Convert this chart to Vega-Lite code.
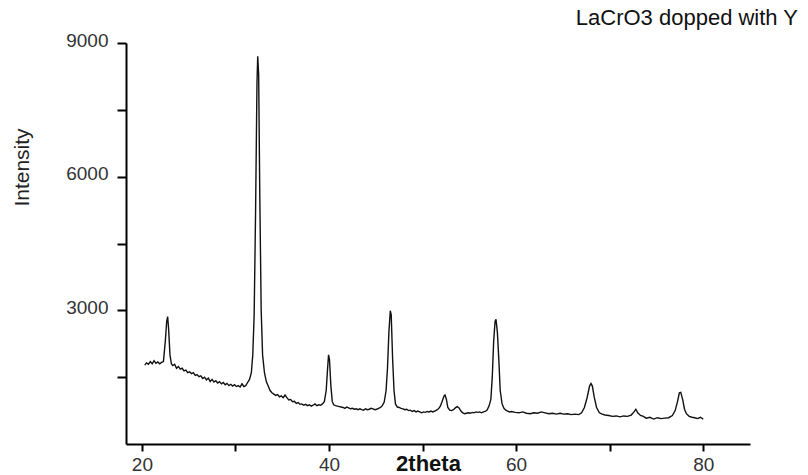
{
  "$schema": "https://vega.github.io/schema/vega-lite/v6.json",
  "width": 624,
  "height": 401,
  "autosize": {"type": "none"},
  "padding": {"left": 126, "top": 43, "right": 58, "bottom": 31},
  "background": "white",
  "config": {"view": {"stroke": null}},
  "title": {
    "text": "LaCrO3 dopped with Y",
    "anchor": "end",
    "frame": "group",
    "dx": 48,
    "dy": 31,
    "offset": 15,
    "baseline": "alphabetic",
    "font": "Liberation Sans",
    "fontSize": 22,
    "fontWeight": "normal",
    "color": "#111"
  },
  "data": {"values": [
    {"t": 20.3, "i": 1770}, {"t": 20.5, "i": 1820}, {"t": 20.7, "i": 1790}, {"t": 20.9, "i": 1850}, {"t": 21.1, "i": 1800},
    {"t": 21.3, "i": 1870}, {"t": 21.5, "i": 1810}, {"t": 21.7, "i": 1840}, {"t": 21.9, "i": 1800}, {"t": 22.1, "i": 1830},
    {"t": 22.3, "i": 1850}, {"t": 22.5, "i": 2300}, {"t": 22.65, "i": 2750}, {"t": 22.75, "i": 2860}, {"t": 22.85, "i": 2600},
    {"t": 23.0, "i": 2000}, {"t": 23.15, "i": 1800}, {"t": 23.3, "i": 1760}, {"t": 23.5, "i": 1790}, {"t": 23.7, "i": 1700},
    {"t": 23.9, "i": 1740}, {"t": 24.1, "i": 1680}, {"t": 24.3, "i": 1700}, {"t": 24.5, "i": 1640}, {"t": 24.7, "i": 1660},
    {"t": 24.9, "i": 1600}, {"t": 25.1, "i": 1620}, {"t": 25.3, "i": 1580}, {"t": 25.5, "i": 1600}, {"t": 25.7, "i": 1540},
    {"t": 25.9, "i": 1560}, {"t": 26.1, "i": 1510}, {"t": 26.3, "i": 1530}, {"t": 26.5, "i": 1470}, {"t": 26.7, "i": 1500},
    {"t": 26.9, "i": 1440}, {"t": 27.1, "i": 1480}, {"t": 27.3, "i": 1400}, {"t": 27.5, "i": 1450}, {"t": 27.7, "i": 1390},
    {"t": 27.9, "i": 1420}, {"t": 28.1, "i": 1370}, {"t": 28.3, "i": 1400}, {"t": 28.5, "i": 1350}, {"t": 28.7, "i": 1380},
    {"t": 28.9, "i": 1330}, {"t": 29.1, "i": 1360}, {"t": 29.3, "i": 1310}, {"t": 29.5, "i": 1340}, {"t": 29.7, "i": 1300},
    {"t": 29.9, "i": 1330}, {"t": 30.1, "i": 1290}, {"t": 30.3, "i": 1310}, {"t": 30.5, "i": 1280}, {"t": 30.7, "i": 1350},
    {"t": 30.9, "i": 1290}, {"t": 31.1, "i": 1310}, {"t": 31.3, "i": 1380}, {"t": 31.5, "i": 1450}, {"t": 31.7, "i": 1600},
    {"t": 31.85, "i": 2000}, {"t": 32.0, "i": 2900}, {"t": 32.15, "i": 5200}, {"t": 32.3, "i": 8100}, {"t": 32.38, "i": 8700},
    {"t": 32.48, "i": 8300}, {"t": 32.6, "i": 5600}, {"t": 32.75, "i": 3000}, {"t": 32.9, "i": 2000}, {"t": 33.1, "i": 1600},
    {"t": 33.3, "i": 1400}, {"t": 33.5, "i": 1300}, {"t": 33.7, "i": 1200}, {"t": 33.9, "i": 1150}, {"t": 34.1, "i": 1120},
    {"t": 34.3, "i": 1090}, {"t": 34.5, "i": 1110}, {"t": 34.7, "i": 1060}, {"t": 34.9, "i": 1080}, {"t": 35.1, "i": 1040},
    {"t": 35.3, "i": 1100}, {"t": 35.5, "i": 1040}, {"t": 35.7, "i": 990}, {"t": 35.9, "i": 1000}, {"t": 36.1, "i": 950},
    {"t": 36.3, "i": 960}, {"t": 36.5, "i": 910}, {"t": 36.7, "i": 930}, {"t": 36.9, "i": 890}, {"t": 37.1, "i": 900},
    {"t": 37.3, "i": 870}, {"t": 37.5, "i": 890}, {"t": 37.7, "i": 860}, {"t": 37.9, "i": 880}, {"t": 38.1, "i": 850},
    {"t": 38.3, "i": 870}, {"t": 38.5, "i": 900}, {"t": 38.7, "i": 860}, {"t": 38.9, "i": 880}, {"t": 39.1, "i": 870},
    {"t": 39.3, "i": 900}, {"t": 39.5, "i": 950}, {"t": 39.7, "i": 1200}, {"t": 39.85, "i": 1700}, {"t": 39.95, "i": 2000},
    {"t": 40.05, "i": 1900}, {"t": 40.2, "i": 1300}, {"t": 40.35, "i": 950}, {"t": 40.5, "i": 880}, {"t": 40.7, "i": 860},
    {"t": 40.9, "i": 850}, {"t": 41.1, "i": 840}, {"t": 41.3, "i": 830}, {"t": 41.5, "i": 820}, {"t": 41.7, "i": 800},
    {"t": 41.9, "i": 830}, {"t": 42.1, "i": 810}, {"t": 42.3, "i": 790}, {"t": 42.5, "i": 800}, {"t": 42.7, "i": 780},
    {"t": 42.9, "i": 790}, {"t": 43.1, "i": 770}, {"t": 43.3, "i": 790}, {"t": 43.5, "i": 770}, {"t": 43.7, "i": 760},
    {"t": 43.9, "i": 790}, {"t": 44.1, "i": 770}, {"t": 44.3, "i": 780}, {"t": 44.5, "i": 800}, {"t": 44.7, "i": 790},
    {"t": 44.9, "i": 770}, {"t": 45.1, "i": 780}, {"t": 45.3, "i": 800}, {"t": 45.5, "i": 820}, {"t": 45.7, "i": 860},
    {"t": 45.9, "i": 940}, {"t": 46.1, "i": 1200}, {"t": 46.25, "i": 1700}, {"t": 46.4, "i": 2500}, {"t": 46.55, "i": 2990},
    {"t": 46.65, "i": 2900}, {"t": 46.8, "i": 1900}, {"t": 46.95, "i": 1200}, {"t": 47.1, "i": 900}, {"t": 47.3, "i": 830},
    {"t": 47.5, "i": 820}, {"t": 47.7, "i": 800}, {"t": 47.9, "i": 790}, {"t": 48.1, "i": 770}, {"t": 48.3, "i": 780},
    {"t": 48.5, "i": 750}, {"t": 48.7, "i": 760}, {"t": 48.9, "i": 730}, {"t": 49.1, "i": 750}, {"t": 49.3, "i": 720},
    {"t": 49.5, "i": 740}, {"t": 49.7, "i": 720}, {"t": 49.9, "i": 700}, {"t": 50.1, "i": 720}, {"t": 50.3, "i": 710},
    {"t": 50.5, "i": 730}, {"t": 50.7, "i": 720}, {"t": 50.9, "i": 740}, {"t": 51.1, "i": 720}, {"t": 51.3, "i": 740},
    {"t": 51.5, "i": 760}, {"t": 51.7, "i": 790}, {"t": 51.9, "i": 850}, {"t": 52.1, "i": 960}, {"t": 52.3, "i": 1080},
    {"t": 52.4, "i": 1100}, {"t": 52.55, "i": 1000}, {"t": 52.7, "i": 820}, {"t": 52.9, "i": 760}, {"t": 53.1, "i": 750},
    {"t": 53.3, "i": 770}, {"t": 53.5, "i": 810}, {"t": 53.7, "i": 840}, {"t": 53.9, "i": 810}, {"t": 54.1, "i": 740},
    {"t": 54.3, "i": 700}, {"t": 54.5, "i": 680}, {"t": 54.7, "i": 690}, {"t": 54.9, "i": 700}, {"t": 55.1, "i": 690},
    {"t": 55.3, "i": 710}, {"t": 55.5, "i": 700}, {"t": 55.7, "i": 720}, {"t": 55.9, "i": 710}, {"t": 56.1, "i": 720},
    {"t": 56.3, "i": 700}, {"t": 56.5, "i": 720}, {"t": 56.7, "i": 730}, {"t": 56.9, "i": 760}, {"t": 57.1, "i": 850},
    {"t": 57.3, "i": 1000}, {"t": 57.45, "i": 1500}, {"t": 57.6, "i": 2300}, {"t": 57.75, "i": 2750}, {"t": 57.85, "i": 2800},
    {"t": 58.0, "i": 2500}, {"t": 58.15, "i": 1900}, {"t": 58.3, "i": 1200}, {"t": 58.5, "i": 900}, {"t": 58.7, "i": 800},
    {"t": 58.9, "i": 760}, {"t": 59.1, "i": 740}, {"t": 59.3, "i": 720}, {"t": 59.5, "i": 730}, {"t": 59.9, "i": 710},
    {"t": 60.3, "i": 700}, {"t": 60.7, "i": 720}, {"t": 61.1, "i": 690}, {"t": 61.5, "i": 680}, {"t": 61.9, "i": 700},
    {"t": 62.3, "i": 690}, {"t": 62.7, "i": 720}, {"t": 63.1, "i": 700}, {"t": 63.5, "i": 680}, {"t": 63.9, "i": 690},
    {"t": 64.3, "i": 670}, {"t": 64.7, "i": 690}, {"t": 65.1, "i": 670}, {"t": 65.5, "i": 680}, {"t": 65.9, "i": 660},
    {"t": 66.3, "i": 670}, {"t": 66.7, "i": 660}, {"t": 67.0, "i": 700}, {"t": 67.3, "i": 820}, {"t": 67.6, "i": 1050},
    {"t": 67.85, "i": 1300}, {"t": 68.0, "i": 1360}, {"t": 68.15, "i": 1300}, {"t": 68.35, "i": 1050}, {"t": 68.6, "i": 820},
    {"t": 68.9, "i": 700}, {"t": 69.2, "i": 670}, {"t": 69.5, "i": 650}, {"t": 69.9, "i": 640}, {"t": 70.3, "i": 620},
    {"t": 70.7, "i": 630}, {"t": 71.1, "i": 610}, {"t": 71.5, "i": 630}, {"t": 71.9, "i": 620}, {"t": 72.3, "i": 650},
    {"t": 72.6, "i": 720}, {"t": 72.8, "i": 780}, {"t": 73.0, "i": 700}, {"t": 73.3, "i": 640}, {"t": 73.6, "i": 620},
    {"t": 73.9, "i": 580}, {"t": 74.3, "i": 600}, {"t": 74.7, "i": 560}, {"t": 75.1, "i": 590}, {"t": 75.5, "i": 570},
    {"t": 75.9, "i": 580}, {"t": 76.3, "i": 590}, {"t": 76.7, "i": 640}, {"t": 77.0, "i": 750}, {"t": 77.25, "i": 950},
    {"t": 77.45, "i": 1150}, {"t": 77.6, "i": 1160}, {"t": 77.8, "i": 1000}, {"t": 78.0, "i": 780}, {"t": 78.2, "i": 680},
    {"t": 78.5, "i": 620}, {"t": 78.8, "i": 600}, {"t": 79.1, "i": 590}, {"t": 79.4, "i": 570}, {"t": 79.7, "i": 600},
    {"t": 80.0, "i": 560}
  ]},
  "mark": {"type": "line", "color": "#111", "strokeWidth": 1.4, "clip": true},
  "encoding": {
    "x": {
      "field": "t", "type": "quantitative",
      "scale": {"domain": [18.3, 85], "nice": false, "zero": false},
      "axis": {
        "title": "2theta",
        "values": [20, 30, 40, 50, 60, 70, 80],
        "labelExpr": "datum.value % 20 == 0 ? datum.label : ''",
        "format": "d",
        "grid": false,
        "domainColor": "#000", "domainWidth": 2,
        "tickColor": "#000", "tickWidth": 2, "tickSize": 7,
        "labelFont": "Liberation Sans", "labelFontSize": 19, "labelColor": "#333",
        "labelPadding": 4, "labelBaseline": "top",
        "titleFont": "Liberation Sans", "titleFontSize": 22, "titleFontWeight": "bold", "titleColor": "#111",
        "titleX": 302, "titleY": 26, "titleBaseline": "alphabetic", "titleAlign": "center"
      }
    },
    "y": {
      "field": "i", "type": "quantitative",
      "scale": {"domain": [0, 9000], "nice": false},
      "axis": {
        "title": "Intensity",
        "values": [1500, 3000, 4500, 6000, 7500, 9000],
        "labelExpr": "datum.value % 3000 == 0 ? datum.label : ''",
        "format": "d",
        "grid": false,
        "domainColor": "#000", "domainWidth": 2,
        "tickColor": "#000", "tickWidth": 2, "tickSize": 9,
        "labelFont": "Liberation Sans", "labelFontSize": 19, "labelColor": "#333",
        "labelPadding": 9, "labelOffset": -3,
        "titleFont": "Liberation Sans", "titleFontSize": 21, "titleFontWeight": "normal", "titleColor": "#222",
        "titleX": -98, "titleY": 124, "titleAngle": -90, "titleBaseline": "alphabetic", "titleAlign": "center"
      }
    }
  }
}
